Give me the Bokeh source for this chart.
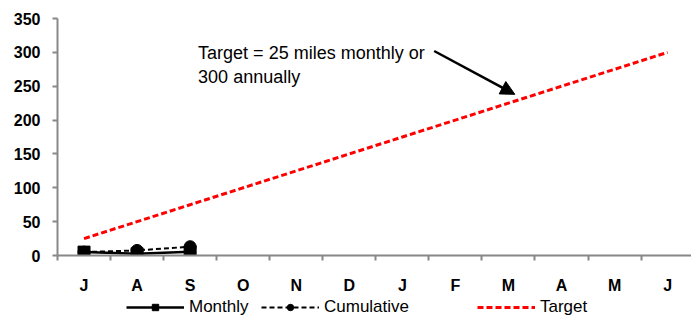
from bokeh.plotting import figure
from bokeh.layouts import column
from bokeh.models import (Range1d, FixedTicker, Legend, LegendItem, Arrow,
                          NormalHead, Label)
from bokeh.embed import file_html
from bokeh.resources import INLINE
import numpy as np

# Month initials, July through June
months = ["J", "A", "S", "O", "N", "D", "J", "F", "M", "A", "M", "J"]
monthly = [5, 2.5, 5.5]
cumulative = [5, 7.5, 13]
target = [25, 50, 75, 100, 125, 150, 175, 200, 225, 250, 275, 300]
y_ticks = [0, 50, 100, 150, 200, 250, 300, 350]

FONT = "Liberation Sans"
RED = "#FF0000"

centers = np.arange(len(months)) + 0.5

p = figure(width=691, height=296, output_backend="svg", toolbar_location=None,
           x_range=Range1d(0, 11.95), y_range=Range1d(0, 350),
           min_border_left=57, min_border_right=0, min_border_top=18,
           min_border_bottom=41, outline_line_color=None)
p.xgrid.visible = False
p.ygrid.visible = False

# Line series
target_style = dict(line_color=RED, line_width=3, line_dash="6 3")
cum_line_style = dict(line_color="black", line_width=2, line_dash="5 3")
mon_line_style = dict(line_color="black", line_width=2.5)

p.line(centers, target, **target_style)
p.line(centers[:len(cumulative)], cumulative, **cum_line_style)
p.scatter(centers[:len(cumulative)], cumulative, marker="circle", size=12,
          color="black")
p.line(centers[:len(monthly)], monthly, **mon_line_style)
p.scatter(centers[:len(monthly)], monthly, marker="square", size=12,
          color="black")

# X axis: labels at month centres, tick marks at month boundaries
xa = p.xaxis[0]
xa.ticker = FixedTicker(ticks=list(centers),
                        minor_ticks=list(range(len(months) + 1)))
xa.major_label_overrides = {float(c): m for c, m in zip(centers, months)}
xa.major_tick_out = 0
xa.major_tick_in = 0
xa.minor_tick_out = 5
xa.minor_tick_in = 0
xa.minor_tick_line_color = "#888888"
xa.minor_tick_line_width = 2
xa.axis_line_color = "#888888"
xa.axis_line_width = 2
xa.major_label_standoff = 16
xa.major_label_text_font = FONT
xa.major_label_text_font_style = "bold"
xa.major_label_text_font_size = "16px"
xa.major_label_text_color = "black"

ya = p.yaxis[0]
ya.ticker = FixedTicker(ticks=y_ticks, minor_ticks=[])
ya.major_tick_out = 5
ya.major_tick_in = 0
ya.major_tick_line_color = "#888888"
ya.major_tick_line_width = 2
ya.axis_line_color = "#888888"
ya.axis_line_width = 2
ya.major_label_standoff = 12
ya.major_label_text_font = FONT
ya.major_label_text_font_style = "bold"
ya.major_label_text_font_size = "16px"
ya.major_label_text_color = "black"

# Target annotation with arrow
p.add_layout(Label(x=2.65, y=314, text="Target = 25 miles monthly or\n300 annually",
                   text_font=FONT, text_font_size="18px", text_color="black",
                   text_baseline="top", text_align="left"))
p.add_layout(Arrow(x_start=7.1, y_start=302, x_end=8.62, y_end=238,
                   line_color="black", line_width=2.5,
                   end=NormalHead(size=14, fill_color="black",
                                  line_color="black")))

# Legend strip beneath the chart; its renderers sit outside the visible range
lg = figure(width=691, height=24, output_backend="svg", toolbar_location=None,
            x_range=Range1d(0, 1), y_range=Range1d(0, 1),
            min_border=0, outline_line_color=None)
lg.axis.visible = False
lg.grid.visible = False

off = [-5]
lt = lg.line(off, off, **target_style)
lc = lg.line(off, off, **cum_line_style)
lcp = lg.scatter(off, off, marker="circle", size=11, color="black")
lm = lg.line(off, off, **mon_line_style)
lmp = lg.scatter(off, off, marker="square", size=11, color="black")


def add_legend(label, renderers, x):
    leg = Legend(items=[LegendItem(label=label, renderers=renderers)],
                 location=(x, 3), orientation="horizontal",
                 glyph_width=58, glyph_height=16, label_standoff=5,
                 padding=0, margin=0, border_line_color=None,
                 background_fill_alpha=0, label_text_font=FONT,
                 label_text_font_size="17px", label_text_color="black")
    lg.add_layout(leg, "center")


# x offsets are measured from the left edge of the plotting area
add_legend("Monthly", [lm, lmp], 69)
add_legend("Cumulative", [lc, lcp], 204)
add_legend("Target", [lt], 420)

open("out.html", "w").write(file_html(column(p, lg, spacing=0), INLINE))
